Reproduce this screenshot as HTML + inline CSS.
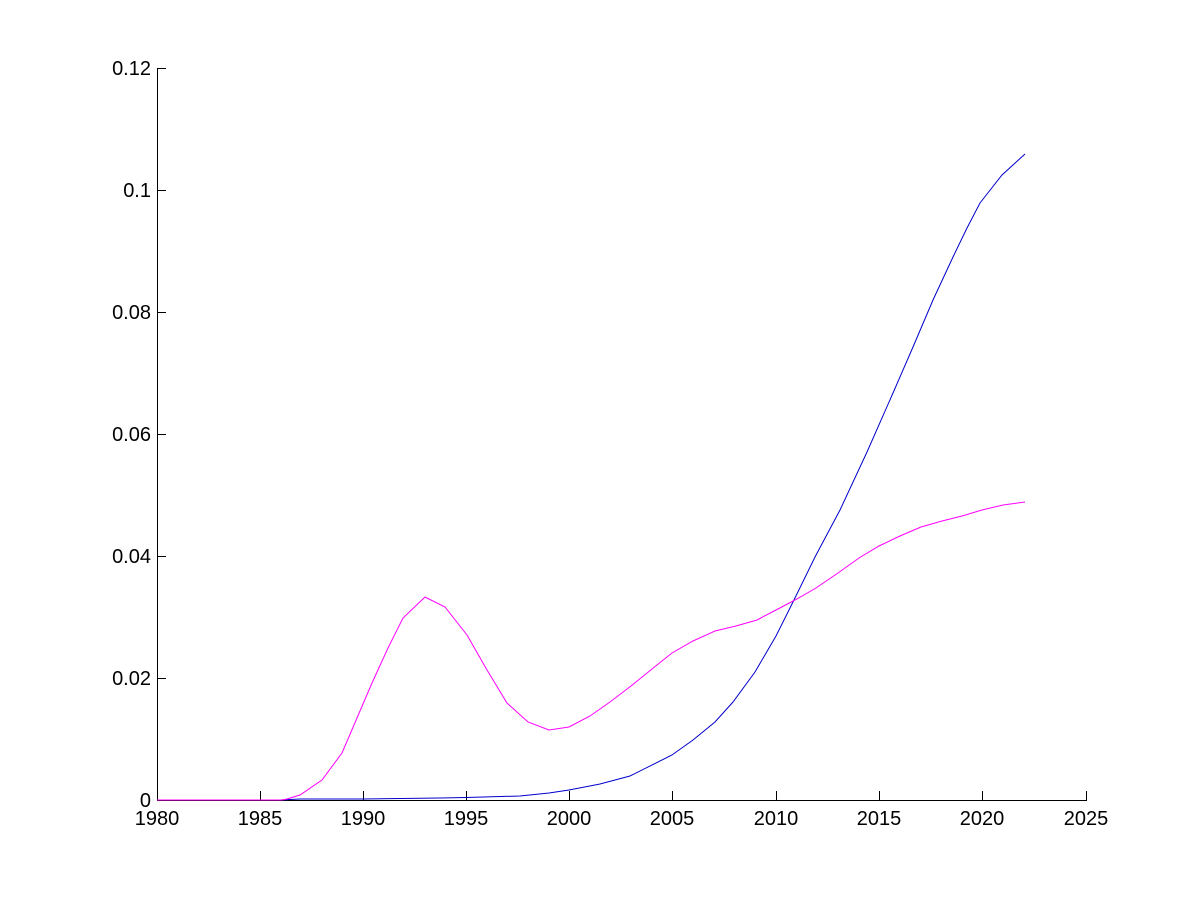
<!DOCTYPE html>
<html><head><style>body{margin:0;background:#fff}svg text{font-family:"Liberation Sans",sans-serif;font-size:20px}</style></head>
<body>
<svg width="1200" height="900" viewBox="0 0 1200 900">
<rect width="1200" height="900" fill="#fff"/>
<g stroke="#000" stroke-width="1" fill="none">
<line x1="157" y1="800.5" x2="1087" y2="800.5"/>
<line x1="157.5" y1="68" x2="157.5" y2="800"/>
<line x1="260.5" y1="800" x2="260.5" y2="791"/><line x1="363.5" y1="800" x2="363.5" y2="791"/><line x1="466.5" y1="800" x2="466.5" y2="791"/><line x1="569.5" y1="800" x2="569.5" y2="791"/><line x1="672.5" y1="800" x2="672.5" y2="791"/><line x1="776.5" y1="800" x2="776.5" y2="791"/><line x1="879.5" y1="800" x2="879.5" y2="791"/><line x1="982.5" y1="800" x2="982.5" y2="791"/><line x1="1086.5" y1="800" x2="1086.5" y2="791"/>
<line x1="157" y1="68.5" x2="166" y2="68.5"/><line x1="157" y1="190.5" x2="166" y2="190.5"/><line x1="157" y1="312.5" x2="166" y2="312.5"/><line x1="157" y1="434.5" x2="166" y2="434.5"/><line x1="157" y1="556.5" x2="166" y2="556.5"/><line x1="157" y1="678.5" x2="166" y2="678.5"/>
</g>
<g text-anchor="middle">
<text x="157" y="825">1980</text><text x="260" y="825">1985</text><text x="363" y="825">1990</text><text x="466" y="825">1995</text><text x="569" y="825">2000</text><text x="672" y="825">2005</text><text x="776" y="825">2010</text><text x="879" y="825">2015</text><text x="982" y="825">2020</text><text x="1086" y="825">2025</text>
</g>
<g text-anchor="end">
<text x="151" y="807">0</text><text x="151" y="685">0.02</text><text x="151" y="563">0.04</text><text x="151" y="441">0.06</text><text x="151" y="319">0.08</text><text x="151" y="197">0.1</text><text x="151" y="75">0.12</text>
</g>
<polyline fill="none" stroke="#0000cc" stroke-width="1" points="157,800 280,800 300,799 363,799 440,798 466,797.5 520,796 549,793 569,790 600,784 630,776 672,755 693,740 715,722 733,702 755,672 776,636 793,602 815,557 840,510 867,452 893,393 913,347 933,300 953,257 967,228 980,203 1002,175 1025,154"/>
<polyline fill="none" stroke="#ff00ff" stroke-width="1" points="157,800 282,800 287,799 300,795 322,780 342,753 357,718 372,683 388,648 403,618 425,597 445,607 467,635 487,670 507,703 528,722 549,730 569,727 590,716 610,702 631,686 652,669 672,653 693,641 715,631 736,626 757,620 776,610 795,600 816,588 838,573 859,558 879,546 900,536 921,527 942,521 962,516 982,510 1003,505 1025,502"/>
</svg>
</body></html>
